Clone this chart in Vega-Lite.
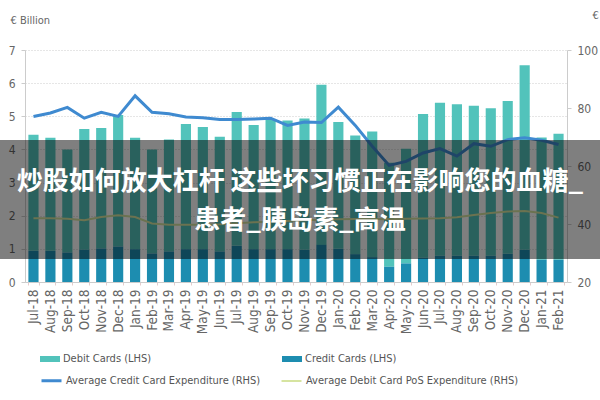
{
  "$schema": "https://vega.github.io/schema/vega-lite/v6.json",
  "width": 542,
  "height": 232,
  "autosize": {"type": "none"},
  "padding": {"left": 25, "top": 50, "right": 33, "bottom": 118},
  "background": "white",
  "datasets": {
    "cards": [
      {"month": "Jul-18", "debit": 3.50, "credit": 0.94, "credit_exp": 77.1, "debit_pos": 42.0},
      {"month": "Aug-18", "debit": 3.41, "credit": 0.94, "credit_exp": 78.3, "debit_pos": 42.0},
      {"month": "Sep-18", "debit": 3.11, "credit": 0.89, "credit_exp": 80.2, "debit_pos": 41.8},
      {"month": "Oct-18", "debit": 3.65, "credit": 0.97, "credit_exp": 76.5, "debit_pos": 41.3},
      {"month": "Nov-18", "debit": 3.64, "credit": 1.01, "credit_exp": 78.5, "debit_pos": 42.4},
      {"month": "Dec-18", "debit": 3.97, "credit": 1.07, "credit_exp": 77.1, "debit_pos": 43.0},
      {"month": "Jan-19", "debit": 3.36, "credit": 0.99, "credit_exp": 84.2, "debit_pos": 42.4},
      {"month": "Feb-19", "debit": 3.14, "credit": 0.86, "credit_exp": 78.5, "debit_pos": 40.2},
      {"month": "Mar-19", "debit": 3.38, "credit": 0.92, "credit_exp": 78.0, "debit_pos": 39.7},
      {"month": "Apr-19", "debit": 3.78, "credit": 0.99, "credit_exp": 76.9, "debit_pos": 39.7},
      {"month": "May-19", "debit": 3.69, "credit": 0.99, "credit_exp": 76.6, "debit_pos": 39.7},
      {"month": "Jun-19", "debit": 3.46, "credit": 0.92, "credit_exp": 76.0, "debit_pos": 39.9},
      {"month": "Jul-19", "debit": 4.04, "credit": 1.09, "credit_exp": 76.0, "debit_pos": 40.3},
      {"month": "Aug-19", "debit": 3.75, "credit": 0.99, "credit_exp": 76.2, "debit_pos": 40.6},
      {"month": "Sep-19", "debit": 3.90, "credit": 0.99, "credit_exp": 76.5, "debit_pos": 40.8},
      {"month": "Oct-19", "debit": 3.88, "credit": 0.99, "credit_exp": 74.0, "debit_pos": 41.0},
      {"month": "Nov-19", "debit": 3.96, "credit": 0.97, "credit_exp": 75.2, "debit_pos": 41.3},
      {"month": "Dec-19", "debit": 4.83, "credit": 1.12, "credit_exp": 75.0, "debit_pos": 41.5},
      {"month": "Jan-20", "debit": 3.83, "credit": 1.00, "credit_exp": 80.3, "debit_pos": 41.6},
      {"month": "Feb-20", "debit": 3.58, "credit": 0.84, "credit_exp": 74.0, "debit_pos": 41.7},
      {"month": "Mar-20", "debit": 3.79, "credit": 0.75, "credit_exp": 66.8, "debit_pos": 41.7},
      {"month": "Apr-20", "debit": 3.14, "credit": 0.46, "credit_exp": 60.2, "debit_pos": 41.6},
      {"month": "May-20", "debit": 3.46, "credit": 0.56, "credit_exp": 61.6, "debit_pos": 41.8},
      {"month": "Jun-20", "debit": 4.34, "credit": 0.73, "credit_exp": 64.5, "debit_pos": 41.9},
      {"month": "Jul-20", "debit": 4.62, "credit": 0.79, "credit_exp": 66.0, "debit_pos": 42.0},
      {"month": "Aug-20", "debit": 4.57, "credit": 0.79, "credit_exp": 63.4, "debit_pos": 42.3},
      {"month": "Sep-20", "debit": 4.53, "credit": 0.79, "credit_exp": 67.7, "debit_pos": 43.1},
      {"month": "Oct-20", "debit": 4.45, "credit": 0.79, "credit_exp": 66.8, "debit_pos": 43.8},
      {"month": "Nov-20", "debit": 4.61, "credit": 0.85, "credit_exp": 69.1, "debit_pos": 44.3},
      {"month": "Dec-20", "debit": 5.57, "credit": 0.97, "credit_exp": 69.7, "debit_pos": 44.5},
      {"month": "Jan-21", "debit": 3.69, "credit": 0.67, "credit_exp": 68.9, "debit_pos": 43.8},
      {"month": "Feb-21", "debit": 3.80, "credit": 0.67, "credit_exp": 67.4, "debit_pos": 42.2}
    ]
  },
  "data": {"name": "cards"},
  "layer": [
    {
      "encoding": {
        "x": {
          "field": "month",
          "type": "nominal",
          "sort": null,
          "scale": {
            "domain": ["Jul-18", "Aug-18", "Sep-18", "Oct-18", "Nov-18", "Dec-18",
                       "Jan-19", "Feb-19", "Mar-19", "Apr-19", "May-19", "Jun-19",
                       "Jul-19", "Aug-19", "Sep-19", "Oct-19", "Nov-19", "Dec-19",
                       "Jan-20", "Feb-20", "Mar-20", "Apr-20", "May-20", "Jun-20",
                       "Jul-20", "Aug-20", "Sep-20", "Oct-20", "Nov-20", "Dec-20",
                       "Jan-21", "Feb-21"],
            "paddingInner": 0.4,
            "paddingOuter": 0.2
          },
          "axis": {
            "title": null,
            "labelAngle": -90,
            "labelFont": "DejaVu Sans Condensed, sans-serif",
            "labelFontSize": 13.5,
            "labelColor": "#666666",
            "labelPadding": 4,
            "domainColor": "#cccccc",
            "tickColor": "#e6cccc",
            "tickSize": 3,
            "tickBand": "extent"
          }
        }
      },
      "layer": [
        {
          "transform": [{"fold": ["debit", "credit"], "as": ["series", "value"]}],
          "mark": {"type": "bar"},
          "encoding": {
            "y": {
              "field": "value",
              "type": "quantitative",
              "stack": "zero",
              "scale": {"domain": [0, 7], "nice": false},
              "axis": {
                "orient": "left",
                "values": [0, 1, 2, 3, 4, 5, 6, 7],
                "grid": true,
                "gridDash": [1, 2],
                "gridColor": "#cccccc",
                "domainColor": "#cccccc",
                "tickColor": "#cccccc",
                "tickSize": 4,
                "labelColor": "#666666",
                "labelFont": "DejaVu Sans Condensed, sans-serif",
                "labelFontSize": 12,
                "labelPadding": 6,
                "title": "€ Billion",
                "titleAngle": 0,
                "titleAlign": "left",
                "titleBaseline": "middle",
                "titleX": -15,
                "titleY": -30,
                "titleFont": "DejaVu Sans Condensed, sans-serif",
                "titleFontSize": 11,
                "titleFontWeight": "normal",
                "titleColor": "#666666"
              }
            },
            "fill": {
              "field": "series",
              "type": "nominal",
              "scale": {"domain": ["debit", "credit"], "range": ["#52c3bb", "#1d8db0"]},
              "legend": {
                "title": null,
                "orient": "none",
                "legendX": 15,
                "legendY": 299,
                "direction": "horizontal",
                "columns": 2,
                "columnPadding": 130,
                "padding": 0,
                "symbolType": "M-1,-0.3H1V0.3H-1Z",
                "symbolSize": 400,
                "symbolStrokeWidth": 0,
                "labelOffset": 3,
                "labelLimit": 400,
                "labelFont": "DejaVu Sans Condensed, sans-serif",
                "labelFontSize": 11,
                "labelColor": "#555555",
                "labelExpr": "datum.label == 'debit' ? 'Debit Cards (LHS)' : 'Credit Cards (LHS)'"
              }
            },
            "order": {"field": "series", "sort": "ascending"}
          }
        },
        {
          "transform": [{"fold": ["credit_exp", "debit_pos"], "as": ["series", "value"]}],
          "mark": {"type": "line"},
          "encoding": {
            "y": {
              "field": "value",
              "type": "quantitative",
              "scale": {"domain": [20, 100], "nice": false},
              "axis": {
                "orient": "right",
                "values": [20, 40, 60, 80, 100],
                "grid": false,
                "domainColor": "#cccccc",
                "tickColor": "#cccccc",
                "tickSize": 4,
                "labelColor": "#666666",
                "labelFont": "DejaVu Sans Condensed, sans-serif",
                "labelFontSize": 12,
                "labelPadding": 6,
                "title": "€",
                "titleAngle": 0,
                "titleAlign": "left",
                "titleBaseline": "middle",
                "titleX": 25,
                "titleY": -35,
                "titleFont": "DejaVu Sans Condensed, sans-serif",
                "titleFontSize": 11,
                "titleFontWeight": "normal",
                "titleColor": "#666666"
              }
            },
            "stroke": {
              "field": "series",
              "type": "nominal",
              "scale": {"domain": ["credit_exp", "debit_pos"], "range": ["#3f8ad0", "#d6e4a0"]},
              "legend": {
                "title": null,
                "orient": "none",
                "legendX": 15,
                "legendY": 319,
                "direction": "horizontal",
                "columns": 2,
                "columnPadding": 16,
                "padding": 0,
                "symbolType": "stroke",
                "symbolSize": 400,
                "symbolStrokeWidth": 3,
                "labelOffset": 3,
                "labelLimit": 400,
                "labelFont": "DejaVu Sans Condensed, sans-serif",
                "labelFontSize": 11,
                "labelColor": "#555555",
                "labelExpr": "datum.label == 'credit_exp' ? 'Average Credit Card Expenditure (RHS)' : 'Average Debit Card PoS Expenditure (RHS)'"
              }
            },
            "strokeWidth": {
              "field": "series",
              "type": "nominal",
              "scale": {"domain": ["credit_exp", "debit_pos"], "range": [3, 2]},
              "legend": null
            }
          }
        }
      ],
      "resolve": {"scale": {"y": "independent"}}
    },
    {
      "data": {"values": [{}]},
      "mark": {"type": "rect", "color": "black", "opacity": 0.5},
      "encoding": {
        "x": {"datum": -0.05, "type": "quantitative", "scale": {"domain": [0, 1]}, "axis": null},
        "x2": {"datum": 1.07},
        "y": {"datum": 0.694, "type": "quantitative", "scale": {"domain": [0, 7]}, "axis": null},
        "y2": {"datum": 4.284}
      }
    },
    {
      "data": {"values": [{}]},
      "mark": {
        "type": "text",
        "text": ["炒股如何放大杠杆 这些坏习惯正在影响您的血糖_", "患者_胰岛素_高温"],
        "font": "Noto Sans CJK SC",
        "fontSize": 26,
        "fontWeight": "bold",
        "color": "white",
        "align": "center",
        "baseline": "middle",
        "lineHeight": 39
      },
      "encoding": {
        "x": {"datum": 0.5074, "type": "quantitative", "scale": {"domain": [0, 1]}, "axis": null},
        "y": {"datum": 3.03, "type": "quantitative", "scale": {"domain": [0, 7]}, "axis": null}
      }
    }
  ],
  "resolve": {"scale": {"x": "independent", "y": "independent"}},
  "config": {
    "view": {"stroke": null}
  }
}
